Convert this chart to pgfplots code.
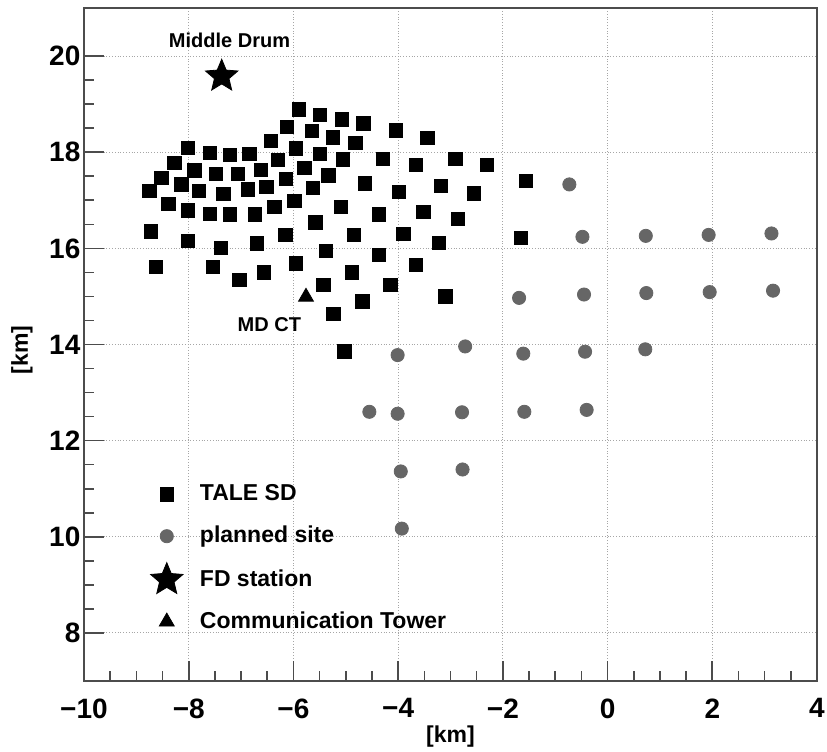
\documentclass[border=0pt]{standalone}
\usepackage{fontspec}
\setmainfont{Liberation Sans}
\usepackage{pgfplots}
\pgfplotsset{compat=1.18}
\definecolor{planned}{RGB}{102,102,102}
% filled five-pointed star
\pgfdeclareplotmark{fstar}{%
  \pgfpathmoveto{\pgfpointpolar{90}{\pgfplotmarksize}}%
  \pgfpathlineto{\pgfpointpolar{126}{0.45\pgfplotmarksize}}%
  \pgfpathlineto{\pgfpointpolar{162}{\pgfplotmarksize}}%
  \pgfpathlineto{\pgfpointpolar{198}{0.45\pgfplotmarksize}}%
  \pgfpathlineto{\pgfpointpolar{234}{\pgfplotmarksize}}%
  \pgfpathlineto{\pgfpointpolar{270}{0.45\pgfplotmarksize}}%
  \pgfpathlineto{\pgfpointpolar{306}{\pgfplotmarksize}}%
  \pgfpathlineto{\pgfpointpolar{342}{0.45\pgfplotmarksize}}%
  \pgfpathlineto{\pgfpointpolar{18}{\pgfplotmarksize}}%
  \pgfpathlineto{\pgfpointpolar{54}{0.45\pgfplotmarksize}}%
  \pgfpathclose
  \pgfusepathqfillstroke}

\begin{document}
\begin{tikzpicture}
\begin{axis}[
    scale only axis,
    width=366.5pt, height=336.5pt,
    xmin=-10, xmax=4, ymin=7, ymax=21,
    xtick={-10,-8,...,4},
    xticklabels={−10,−8,−6,−4,−2,0,2,4},
    ytick={8,10,...,20},
    minor x tick num=3, minor y tick num=3,
    tick pos=left, tick align=inside,
    major tick length=10pt, minor tick length=5pt,
    grid=major,
    grid style={densely dotted, gray!70, line width=0.5pt},
    axis line style={black!70, line width=0.8pt},
    tick style={black!70, line width=0.8pt},
    ticklabel style={font=\bfseries\fontsize{14}{14}\selectfont},
    xticklabel style={yshift=-5.3pt},
    yticklabel style={xshift=1.7pt},
    /pgf/number format/assume math mode=true,
    xlabel={[km]}, ylabel={[km]},
    label style={font=\bfseries\fontsize{11.5}{12}\selectfont},
    xlabel style={at={(axis description cs:0.5,-0.0832)}, anchor=center},
    ylabel style={at={(axis description cs:-0.0846,0.492)}, anchor=center},
    legend style={draw=none, fill=none, at={(axis cs:-8.85,11.3)}, anchor=north west,
        font=\bfseries\fontsize{11.5}{12}\selectfont,
        nodes={text height=9pt, text depth=2.5pt, inner sep=2pt},
        row sep=5.5pt,
        /tikz/every odd column/.append style={column sep=6.5pt}},
    legend cell align=left,
]
% TALE SD
\addplot[only marks, mark=square*, mark size=3.35pt, black] coordinates {
(-8.02,18.09) (-7.60,17.98) (-7.21,17.95) (-6.84,17.97) (-6.43,18.24)
(-8.27,17.78) (-7.89,17.62) (-7.48,17.55) (-7.06,17.55) (-6.62,17.63)
(-6.30,17.84) (-8.52,17.46) (-8.14,17.33) (-8.75,17.19) (-7.81,17.19)
(-7.34,17.13) (-6.87,17.23) (-6.52,17.28) (-8.39,16.93) (-8.02,16.79)
(-7.59,16.72) (-7.21,16.71) (-6.74,16.71) (-6.36,16.86) (-8.72,16.35)
(-8.02,16.16) (-7.38,16.01) (-6.70,16.10) (-8.63,15.62) (-7.54,15.61)
(-7.03,15.35) (-6.56,15.50)
(-5.89,18.89) (-5.49,18.78) (-5.08,18.68) (-4.66,18.60) (-4.04,18.45)
(-3.44,18.30) (-6.13,18.53) (-5.65,18.44) (-5.25,18.31) (-4.82,18.19)
(-5.95,18.08) (-5.49,17.97) (-5.06,17.85) (-4.29,17.86) (-2.91,17.86)
(-3.66,17.73) (-2.31,17.73) (-5.79,17.68) (-5.33,17.52) (-1.56,17.40)
(-6.14,17.44) (-5.63,17.26) (-4.64,17.35) (-3.98,17.17) (-3.18,17.30)
(-2.55,17.14) (-5.98,16.99) (-5.09,16.86) (-4.37,16.71) (-3.52,16.76)
(-2.86,16.61) (-5.58,16.54) (-6.15,16.28) (-4.85,16.28) (-3.90,16.30)
(-3.22,16.11) (-1.66,16.22) (-5.38,15.95) (-4.37,15.86) (-3.66,15.66)
(-5.95,15.69) (-4.88,15.50) (-5.43,15.24) (-4.15,15.24) (-3.10,15.00)
(-4.68,14.90) (-5.24,14.64) (-5.03,13.86)
};
\addlegendentry{TALE SD}
% planned site
\addplot[only marks, mark=*, mark size=3.3pt, planned] coordinates {
(-0.73,17.33)
(-0.48,16.24) (0.73,16.26) (1.93,16.28) (3.13,16.31)
(-1.69,14.97) (-0.45,15.04) (0.74,15.07) (1.95,15.09) (3.16,15.12)
(-4.01,13.78) (-2.72,13.96) (-1.61,13.81) (-0.43,13.85) (0.72,13.90)
(-4.55,12.60) (-4.01,12.56) (-2.78,12.59) (-1.59,12.60) (-0.40,12.64)
(-3.95,11.36) (-2.77,11.40)
(-3.93,10.17)
};
\addlegendentry{planned site}
% FD station
\addplot[only marks, mark=fstar, mark size=8.5pt, black] coordinates {(-7.37,19.58)};
\addlegendentry{FD station}
% communication tower
\addplot[only marks, mark=triangle*, mark size=4.3pt, black] coordinates {(-5.76,14.99)};
\addlegendentry{Communication Tower}
\node[font=\bfseries\fontsize{10}{10}\selectfont] at (axis cs:-7.22,20.33) {Middle Drum};
\node[font=\bfseries\fontsize{10}{10}\selectfont] at (axis cs:-6.46,14.41) {MD CT};
\end{axis}
\pgfresetboundingbox
\path ([shift={(-42pt,-35pt)}]current axis.south west) rectangle ([shift={(5pt,4pt)}]current axis.north east);
\end{tikzpicture}
\end{document}
